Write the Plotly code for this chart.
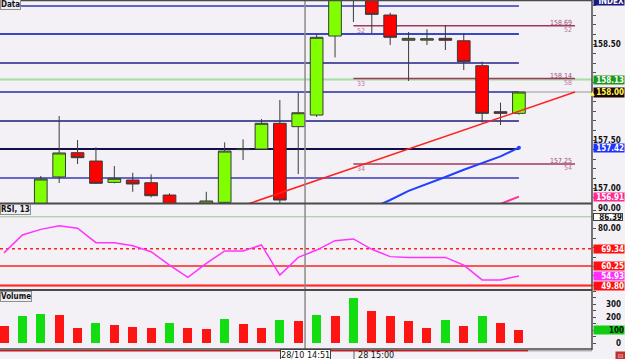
import plotly.graph_objects as go

# ---------------- data ----------------
idx = list(range(29))
opens  = [156.78,156.72,156.80,157.115,157.368,157.281,157.059,157.083,157.055,156.927,156.80,156.76,156.851,157.400,157.406,157.674,157.639,157.76,158.583,159.00,158.98,158.802,158.539,158.54,158.559,158.534,158.274,157.795,157.778]
highs  = [156.80,156.82,157.125,157.75,157.50,157.424,157.229,157.159,157.143,156.945,156.83,156.961,157.476,157.507,157.719,157.917,157.993,158.60,159.05,159.20,159.00,158.826,158.625,158.653,158.698,158.611,158.316,157.889,158.00]
lows   = [156.70,156.70,156.78,157.052,157.25,157.045,157.049,156.961,156.903,156.78,156.74,156.75,156.84,157.292,157.40,156.84,157.146,157.74,158.36,158.729,158.611,158.49,158.115,158.49,158.4375,158.229,157.68,157.656,157.764]
closes = [156.72,156.80,157.094,157.365,157.316,157.049,157.101,157.042,156.920,156.80,156.76,156.865,157.385,157.405,157.674,156.875,157.784,158.57,159.00,159.10,158.809,158.57,158.559,158.555,158.539,158.316,157.778,157.778,158.00]

rsi = [67.2,76.7,79.7,81.6,80.3,72.6,72.6,71.0,67.8,60.7,54.2,61.6,68.2,68.2,71.4,55.4,64.8,68.7,73.7,74.6,69.1,65.2,64.8,64.8,64.8,60.7,52.8,52.8,54.93]

volume = [131,205,223,215,118,156,138,121,113,151,113,108,182,146,113,177,167,218,205,346,246,205,172,115,177,131,205,156,102]
vol_up = [False,True,True,False,False,True,False,False,False,True,False,False,True,False,False,True,False,
          True,False,True,False,False,False,False,True,False,True,False,False]

ma_blue_x = [20,21,22,23,24,25,26,27,28]
ma_blue = [156.79,156.875,156.97,157.04,157.115,157.19,157.26,157.33,157.42]
ma_pink_x = [26,27,28]
ma_pink = [156.75,156.835,156.91]

pivot_levels = [158.896,158.604,158.302,158.0,157.698,157.406,157.104]
pivot_colors = ['#3535b0','#3a48c8','#22228a','#3838b8','#1c1c78','#10104a','#3838b8']
pivot_widths = [1.5,2,1.5,1.5,1.5,2,1.5]

fib_levels = [158.69,158.14,157.25]
fib_right = ['52','58','54']
fib_left = ['52','33','34']
fib_x = [19.0,31.05]

trend_x = [13.2,31.05]
trend_y = [156.83,158.00]

cross_x = 16.37
cross_y = 158.00
green_level = 158.13

rsi_levels = [86.39,69.34,60.25,49.80]

main_ticks = ['158.50','157.50','157.00']
rsi_ticks = ['90.00','80.00']
vol_ticks = ['300','200','0']

# ---------------- layout helpers ----------------
XL, XR = -0.2175, 31.974
def fx(px): return px / 592.0
def fy(py): return (349.0 - py) / 348.0

FONT = 'Liberation Sans Narrow, DejaVu Sans Condensed, Arial Narrow, sans-serif'
BG = '#f3f1f5'

fig = go.Figure()

fig.add_trace(go.Candlestick(
    x=idx, open=opens, high=highs, low=lows, close=closes,
    increasing=dict(fillcolor='#80ff00', line=dict(color='#3a3a3a', width=1)),
    decreasing=dict(fillcolor='#ff0000', line=dict(color='#3a3a3a', width=1)),
    whiskerwidth=0, xaxis='x', yaxis='y', hoverinfo='skip', showlegend=False))

fig.add_trace(go.Scatter(x=trend_x, y=trend_y, mode='lines',
    line=dict(color='#ff2020', width=1.5), xaxis='x', yaxis='y', showlegend=False, hoverinfo='skip'))
fig.add_trace(go.Scatter(x=ma_blue_x, y=ma_blue, mode='lines',
    line=dict(color='#2040ff', width=2), xaxis='x', yaxis='y', showlegend=False, hoverinfo='skip'))
fig.add_trace(go.Scatter(x=ma_blue_x[-1:], y=ma_blue[-1:], mode='markers',
    marker=dict(color='#2040ff', size=4), xaxis='x', yaxis='y', showlegend=False, hoverinfo='skip'))
fig.add_trace(go.Scatter(x=ma_pink_x, y=ma_pink, mode='lines',
    line=dict(color='#ff3399', width=2), xaxis='x', yaxis='y', showlegend=False, hoverinfo='skip'))

fig.add_trace(go.Scatter(x=idx, y=rsi, mode='lines',
    line=dict(color='#ff33ff', width=1.5), xaxis='x', yaxis='y2', showlegend=False, hoverinfo='skip'))

fig.add_trace(go.Bar(x=idx, y=volume, width=0.49,
    marker=dict(color=['#11dd11' if u else '#ff1414' for u in vol_up], line=dict(width=0)),
    xaxis='x', yaxis='y3', showlegend=False, hoverinfo='skip'))

shapes = []
shapes.append(dict(type='line', xref='paper', yref='y', x0=0, x1=1, y0=cross_y, y1=cross_y,
                   line=dict(color='#b4b4b4', width=1.5), layer='below'))
shapes.append(dict(type='line', xref='paper', yref='y', x0=0, x1=1, y0=green_level, y1=green_level,
                   line=dict(color='#a6dca6', width=2), layer='below'))
for lv, c, w in zip(pivot_levels, pivot_colors, pivot_widths):
    shapes.append(dict(type='line', xref='x', yref='y', x0=XL, x1=idx[-1], y0=lv, y1=lv,
                       line=dict(color=c, width=w), layer='below'))
for lv in fib_levels:
    shapes.append(dict(type='line', xref='x', yref='y', x0=fib_x[0], x1=fib_x[1], y0=lv, y1=lv,
                       line=dict(color='#a03a5a', width=1.5), layer='below'))
shapes.append(dict(type='line', xref='paper', yref='y2', x0=0, x1=1, y0=rsi_levels[0], y1=rsi_levels[0],
                   line=dict(color='#9cc09c', width=1), layer='below'))
shapes.append(dict(type='line', xref='paper', yref='y2', x0=0, x1=1, y0=rsi_levels[1], y1=rsi_levels[1],
                   line=dict(color='#ff2020', width=1.5, dash='dot'), layer='below'))
shapes.append(dict(type='line', xref='paper', yref='y2', x0=0, x1=1, y0=rsi_levels[2], y1=rsi_levels[2],
                   line=dict(color='#ff2020', width=1.5), layer='below'))
shapes.append(dict(type='line', xref='paper', yref='y2', x0=0, x1=1, y0=rsi_levels[3], y1=rsi_levels[3],
                   line=dict(color='#ff8080', width=3), layer='below'))
shapes.append(dict(type='line', xref='paper', yref='y2', x0=0, x1=1, y0=rsi_levels[3], y1=rsi_levels[3],
                   line=dict(color='#ff2020', width=1), layer='below'))
shapes.append(dict(type='line', xref='x', yref='paper', x0=cross_x, x1=cross_x, y0=fy(350), y1=fy(0),
                   line=dict(color='#8c8c8c', width=1.5)))
for py, w in [(0.5, 1.5), (203.5, 2), (290, 2), (349, 1.5)]:
    shapes.append(dict(type='line', xref='paper', yref='paper', x0=0, x1=1, y0=fy(py), y1=fy(py),
                       line=dict(color='#4a4a4a', width=w)))
shapes.append(dict(type='line', xref='paper', yref='paper', x0=fx(592), x1=fx(592), y0=fy(350), y1=fy(0),
                   line=dict(color='#4a4a4a', width=1.5)))
shapes.append(dict(type='line', xref='paper', yref='paper', x0=0, x1=fx(528), y0=fy(350.8), y1=fy(350.8),
                   line=dict(color='#c02020', width=1.5)))
shapes.append(dict(type='line', xref='paper', yref='paper', x0=fx(528), x1=fx(592), y0=fy(350.8), y1=fy(350.8),
                   line=dict(color='#909090', width=1)))
shapes.append(dict(type='line', xref='paper', yref='paper', x0=fx(354), x1=fx(354), y0=fy(351), y1=fy(359),
                   line=dict(color='#606060', width=1)))

ann = []
def plain(text, y, yref, color='#111111', yshift=0):
    ann.append(dict(text='<b>%s</b>' % text, x=fx(623), xref='paper', y=y, yref=yref, xanchor='right',
                    yanchor='middle', showarrow=False, yshift=yshift,
                    font=dict(family=FONT, size=8, color=color)))
def box(text, y, yref, bg, fg, border=None, h=8):
    d = dict(text='<b>%s</b>' % text, x=fx(593), xref='paper', y=y, yref=yref, xanchor='left',
             yanchor='middle', showarrow=False, width=30, height=h, align='right', bgcolor=bg,
             borderpad=0, font=dict(family=FONT, size=8, color=fg))
    if border:
        d.update(bordercolor=border, borderwidth=1, width=28, height=h - 2)
    ann.append(d)

for t in main_ticks:
    plain(t, float(t), 'y')
box('158.13', green_level, 'y', '#1a9a1a', '#ffffff')
box('158.00', closes[-1], 'y', '#1e0404', '#ffff50', h=9)
ann.append(dict(text='▲', x=fx(597), xref='paper', y=closes[-1], yref='y', showarrow=False,
                font=dict(family='DejaVu Sans', size=6, color='#ffff50'), yanchor='middle'))
box('157.42', ma_blue[-1], 'y', '#2030ff', '#ffffff')
box('156.91', ma_pink[-1], 'y', '#ff2a90', '#ffffff')
box('INDEX', fy(1.5), 'paper', '#1a1a80', '#ffffff')

plain(rsi_ticks[0], float(rsi_ticks[0]), 'y2', yshift=2)
plain(rsi_ticks[1], float(rsi_ticks[1]), 'y2')
box('86.39', rsi_levels[0], 'y2', '#ffffff', '#111111', border='#404040', h=8)
box('69.34', rsi_levels[1], 'y2', '#ff1010', '#ffffff')
box('60.25', rsi_levels[2], 'y2', '#ff1010', '#ffffff')
box('54.93', rsi[-1], 'y2', '#ff30ff', '#ffffff')
box('49.80', rsi_levels[3], 'y2', '#ff1010', '#ffffff')

for t in vol_ticks:
    plain(t, float(t), 'y3')
box('100', 100, 'y3', '#11cc11', '#111111')

for lv, r, l in zip(fib_levels, fib_right, fib_left):
    ann.append(dict(text='%.2f' % lv, x=fib_x[1] - 0.05, xref='x', y=lv, yref='y', xanchor='right',
                    yanchor='bottom', yshift=-3, showarrow=False,
                    font=dict(family=FONT, size=7, color='#a04a78')))
    ann.append(dict(text=r, x=fib_x[1] - 0.05, xref='x', y=lv, yref='y', xanchor='right',
                    yanchor='top', yshift=2, showarrow=False,
                    font=dict(family=FONT, size=7, color='#c070a0')))
    ann.append(dict(text=l, x=fib_x[0] + 0.1, xref='x', y=lv, yref='y', xanchor='left',
                    yanchor='top', yshift=1, showarrow=False,
                    font=dict(family=FONT, size=7, color='#c070a0')))

for text, py in [('Data', 4.5), ('RSI, 13', 209.5), ('Volume', 296)]:
    ann.append(dict(text='<b>%s</b>' % text, x=0, xref='paper', y=fy(py), yref='paper', xanchor='left',
                    yanchor='middle', showarrow=False, bgcolor='#eeeef4', bordercolor='#909090',
                    borderwidth=1, borderpad=0, font=dict(family=FONT, size=8, color='#111111')))

ann.append(dict(text='28/10 14:51', x=cross_x, xref='x', y=fy(355), yref='paper', xanchor='center',
                yanchor='middle', showarrow=False, bgcolor='#ffffff', bordercolor='#404040',
                borderwidth=1, borderpad=0, font=dict(family=FONT, size=9, color='#111111')))
ann.append(dict(text='28 15:00', x=fx(356), xref='paper', y=fy(355), yref='paper', xanchor='left',
                yanchor='middle', showarrow=False, font=dict(family=FONT, size=9, color='#111111')))
ann.append(dict(text='⊡', x=fx(620), xref='paper', y=fy(355.5), yref='paper', xanchor='center',
                yanchor='middle', showarrow=False, bgcolor='#c03030', width=9, height=7, borderpad=0,
                font=dict(family='DejaVu Sans', size=6, color='#ffffff')))

axis_common = dict(showgrid=False, zeroline=False, showline=False)
fig.update_layout(
    width=625, height=359,
    margin=dict(l=0, r=33, t=1, b=10, pad=0),
    paper_bgcolor=BG, plot_bgcolor=BG,
    showlegend=False, bargap=0, boxgap=0.31, boxgroupgap=0,
    xaxis=dict(domain=[0, 1], range=[XL, XR], anchor='y3', showticklabels=False, ticks='',
               rangeslider=dict(visible=False), **axis_common),
    yaxis=dict(domain=[fy(203), 1], range=[156.844, 158.948], side='right', anchor='x',
               showticklabels=False, ticks='outside', ticklen=3, tickcolor='#505050',
               tick0=157.0, dtick=0.1, **axis_common),
    yaxis2=dict(domain=[fy(289), fy(205)], range=[47.98, 92.66], side='right', anchor='x',
                showticklabels=False, ticks='outside', ticklen=3, tickcolor='#505050',
                tick0=0, dtick=5, **axis_common),
    yaxis3=dict(domain=[0, fy(291)], range=[-46, 400], side='right', anchor='x',
                showticklabels=False, ticks='outside', ticklen=3, tickcolor='#505050',
                tick0=0, dtick=50, **axis_common),
    shapes=shapes, annotations=ann,
)

fig.write_html('out.html')
